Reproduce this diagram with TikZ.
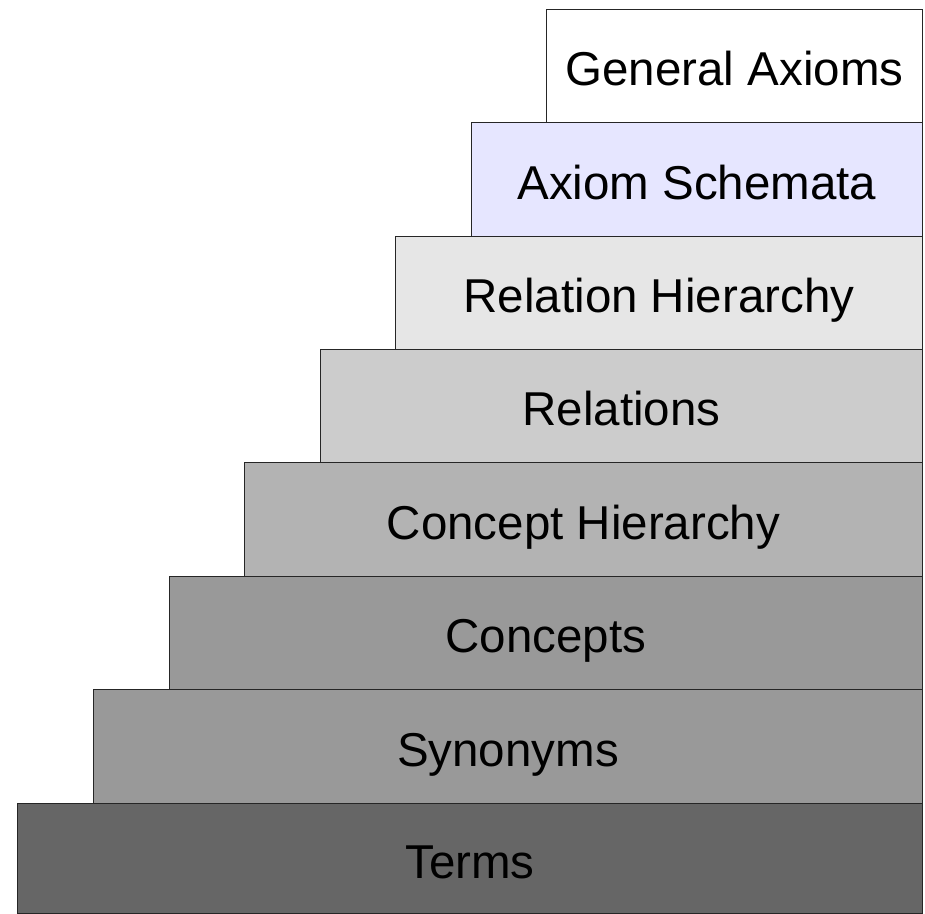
\documentclass[tikz,border=0pt]{standalone}
\usepackage{fontspec}
\setmainfont{Liberation Sans}
\definecolor{cGA}{HTML}{FFFFFF}
\definecolor{cAS}{HTML}{E6E6FF}
\definecolor{cRH}{HTML}{E6E6E6}
\definecolor{cRel}{HTML}{CCCCCC}
\definecolor{cCH}{HTML}{B3B3B3}
\definecolor{cCon}{HTML}{999999}
\definecolor{cSyn}{HTML}{999999}
\definecolor{cTerm}{HTML}{666666}
\begin{document}
\begin{tikzpicture}[x=1pt,y=-1pt,
  stair/.style={draw=black!85, line width=0.9pt, anchor=north west, inner sep=0pt,
    font=\fontsize{47.5}{52}\selectfont, text=black, text height=40pt, text depth=0pt}]
\useasboundingbox (0,0) rectangle (925,913);
\node[stair, fill=cTerm, minimum width=905pt, minimum height=110pt] (terms) at (17,803) {Terms};
\node[stair, fill=cSyn, minimum width=829pt, minimum height=114pt] (syn) at (93,689) {Synonyms};
\node[stair, fill=cCon, minimum width=753pt, minimum height=113pt] (con) at (169,576) {Concepts};
\node[stair, fill=cCH, minimum width=678pt, minimum height=114pt] (ch) at (244,462) {Concept Hierarchy};
\node[stair, fill=cRel, minimum width=602pt, minimum height=113pt] (rel) at (320,349) {Relations};
\node[stair, fill=cRH, minimum width=527pt, minimum height=113pt] (rh) at (395,236) {Relation Hierarchy};
\node[stair, fill=cAS, minimum width=451pt, minimum height=114pt] (as) at (471,122) {Axiom Schemata};
\node[stair, fill=cGA, minimum width=376pt, minimum height=113pt] (ga) at (546,9) {General Axioms};
\end{tikzpicture}
\end{document}
